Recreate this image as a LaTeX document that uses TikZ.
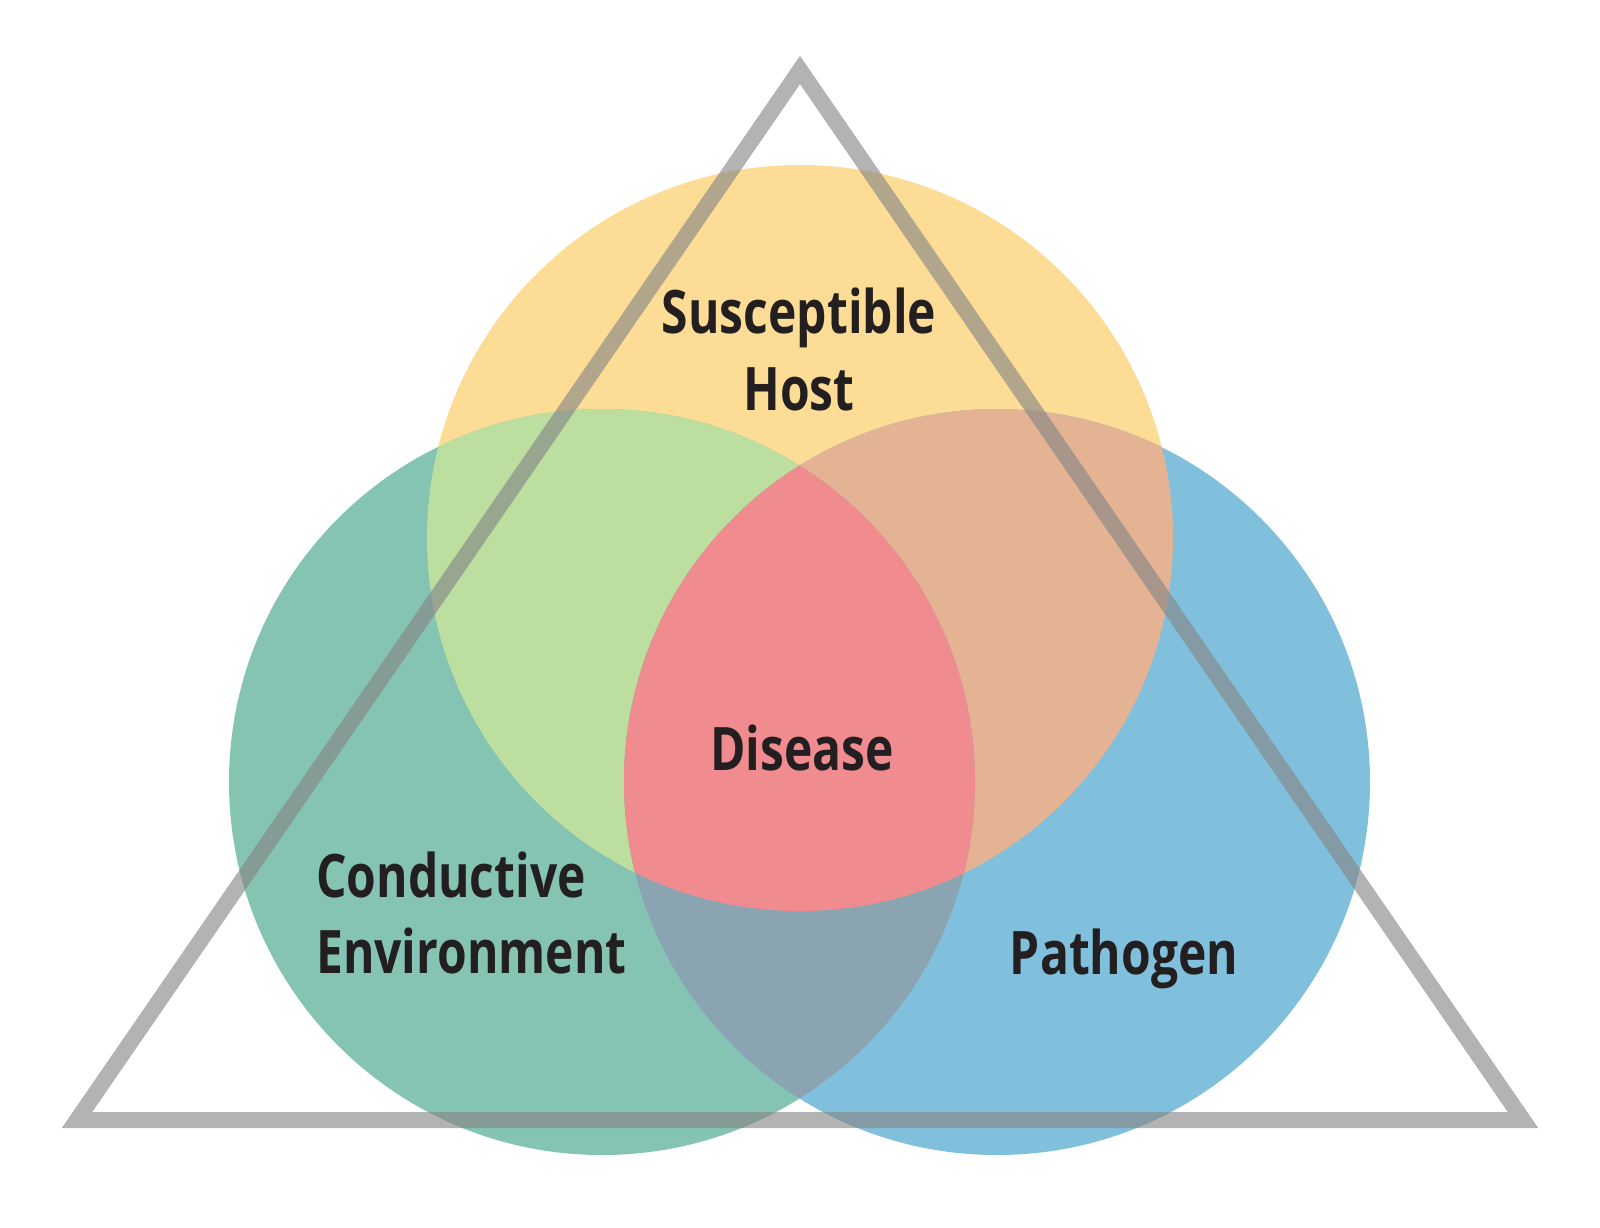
\documentclass[tikz,border=0pt]{standalone}
\usepackage{fontspec}
\newfontfamily\labelfont{Open Sans}[FakeStretch=0.8]
\definecolor{cyellow}{HTML}{FDDC95}
\definecolor{cteal}{HTML}{85C3B2}
\definecolor{cblue}{HTML}{81C0DD}
\definecolor{cgreen}{HTML}{BCDFA0}
\definecolor{cpeach}{HTML}{E4B393}
\definecolor{cslate}{HTML}{8AA5B1}
\definecolor{cred}{HTML}{F08C8F}
\definecolor{ctext}{HTML}{231F20}
\definecolor{ctri}{HTML}{868686}
\begin{document}
\begin{tikzpicture}[x=1pt,y=-1pt,
  lbl/.style={text=ctext,font=\labelfont\bfseries\fontsize{60}{77}\selectfont,inner sep=0pt,anchor=base},
  tri/.style={draw=ctri,draw opacity=0.63,line width=16pt,line join=miter}]
\useasboundingbox (0,0) rectangle (1600,1227);
\def\R{373}
\coordinate (ch) at (800,538);
\coordinate (ce) at (602,782);
\coordinate (cp) at (997,782);
% base circles
\fill[cyellow] (ch) circle (\R);
\fill[cteal] (ce) circle (\R);
\fill[cblue] (cp) circle (\R);
% pairwise overlaps
\begin{scope}
  \clip (ch) circle (\R);
  \fill[cgreen] (ce) circle (\R);
\end{scope}
\begin{scope}
  \clip (ch) circle (\R);
  \fill[cpeach] (cp) circle (\R);
\end{scope}
\begin{scope}
  \clip (ce) circle (\R);
  \fill[cslate] (cp) circle (\R);
\end{scope}
% triple overlap
\begin{scope}
  \clip (ch) circle (\R);
  \clip (ce) circle (\R);
  \fill[cred] (cp) circle (\R);
\end{scope}
% triangle
\coordinate (ta) at (800,70);
\coordinate (tl) at (77,1120);
\coordinate (tr) at (1523,1120);
\draw[tri] (ta) -- (tl) -- (tr) -- cycle;
% labels
\node[lbl] (host1) at (799,333) {Susceptible};
\node[lbl] (host2) at (799,410) {Host};
\node[lbl] (dis) at (802,770) {Disease};
\node[lbl,anchor=base west] (env1) at (316,897) {Conductive};
\node[lbl,anchor=base west] (env2) at (316,973) {Environment};
\node[lbl] (path) at (1124,974) {Pathogen};
\end{tikzpicture}
\end{document}
